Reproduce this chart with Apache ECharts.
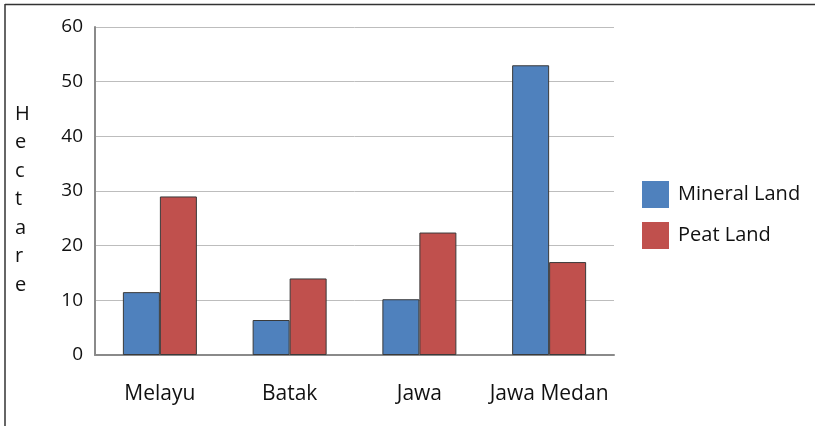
<!DOCTYPE html>
<html>
<head>
<meta charset="utf-8">
<script src="https://cdn.jsdelivr.net/npm/echarts@6/dist/echarts.min.js"></script>
<style>
  html, body { margin: 0; padding: 0; background: #fff; }
  #chart { width: 815px; height: 426px; }
</style>
</head>
<body>
<div id="chart"></div>
<script>
const categories = ['Melayu', 'Batak', 'Jawa', 'Jawa Medan']
const mineralLand = [11.5, 6.4, 10.2, 53]
const peatLand = [29, 14, 22.4, 17]
const seriesNames = ['Mineral Land', 'Peat Land']

const FONT = '"Open Sans", "Noto Sans", sans-serif'
const chart = echarts.init(document.getElementById('chart'))

const barStyle = color => ({
    color: color,
    borderColor: '#3a3a3a',
    borderWidth: 1,
})

chart.setOption({
    animation: false,
    textStyle: { fontFamily: FONT },
    grid: { left: 95, right: 201, top: 27, bottom: 71, containLabel: false },
    legend: {
        orient: 'vertical',
        left: 637,
        top: 176,
        itemWidth: 27,
        itemHeight: 27,
        itemGap: 14,
        icon: 'rect',
        itemStyle: { borderWidth: 0 },
        textStyle: { fontFamily: FONT, fontSize: 20, color: '#111', padding: [0, 0, 0, 4] },
        data: seriesNames,
    },
    xAxis: {
        type: 'category',
        data: categories,
        axisLine: { lineStyle: { color: '#8a8a8a', width: 2 } },
        axisTick: { show: false },
        axisLabel: { color: '#111', fontSize: 21, margin: 29, fontFamily: FONT, interval: 0 },
    },
    yAxis: {
        type: 'value',
        min: 0,
        max: 60,
        interval: 10,
        axisLine: { show: true, lineStyle: { color: '#8a8a8a', width: 2 } },
        axisTick: { show: false },
        axisLabel: { color: '#111', fontSize: 19, margin: 12, fontFamily: FONT },
        splitLine: { lineStyle: { color: '#bdbdbd', width: 1 } },
    },
    series: [
        {
            name: seriesNames[0],
            type: 'bar',
            data: mineralLand,
            barWidth: 37,
            barGap: '0%',
            itemStyle: barStyle('#4F81BD'),
        },
        {
            name: seriesNames[1],
            type: 'bar',
            data: peatLand,
            barWidth: 37,
            itemStyle: barStyle('#C0504D'),
        },
    ],
    graphic: [
        {
            type: 'text',
            left: 15,
            top: 100,
            style: {
                text: 'H\ne\nc\nt\na\nr\ne',
                font: '20px ' + FONT,
                lineHeight: 28.5,
                fill: '#111',
                align: 'center',
            },
        },
        {
            type: 'line',
            shape: { x1: 5, y1: 4.5, x2: 815, y2: 4.5 },
            style: { stroke: '#333', lineWidth: 1.5 },
        },
        {
            type: 'line',
            shape: { x1: 5, y1: 4, x2: 5, y2: 426 },
            style: { stroke: '#333', lineWidth: 1.5 },
        },
    ],
})
</script>
</body>
</html>
